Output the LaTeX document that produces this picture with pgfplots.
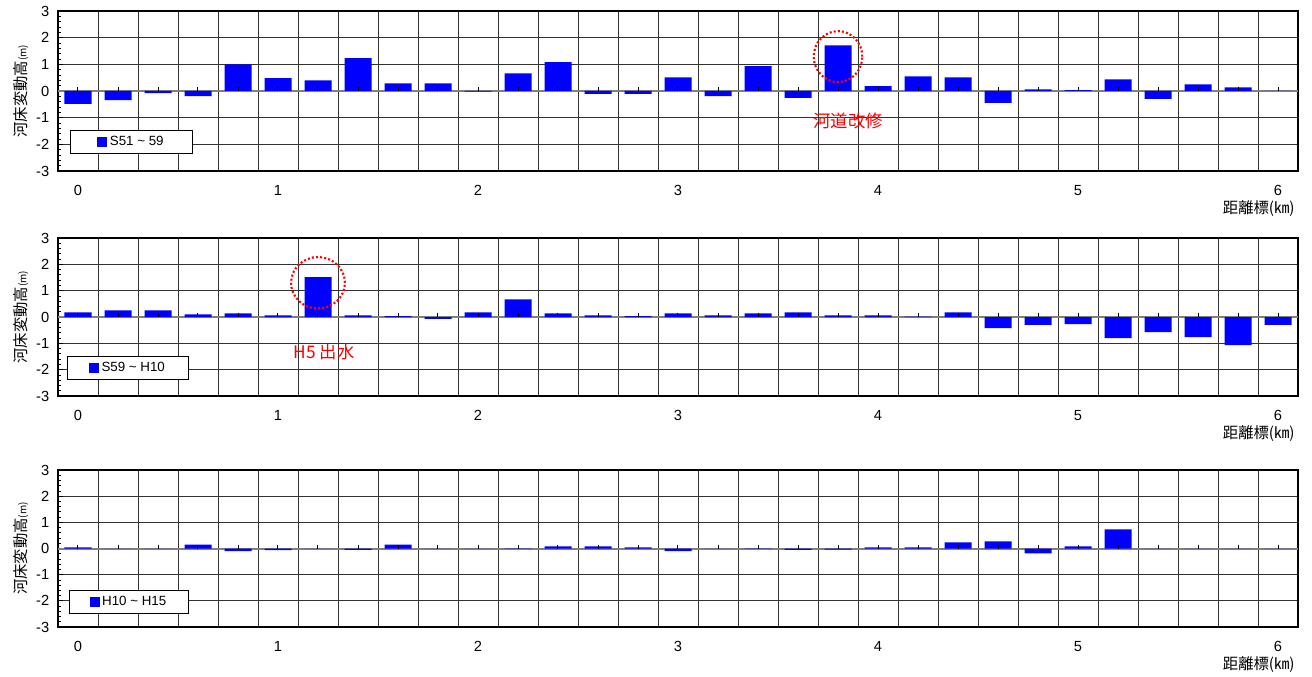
\documentclass[border=0pt]{standalone}
\usepackage{pgfplots}
\usepackage{pgfplotstable}
\pgfplotsset{compat=1.18}
\usepackage{fontspec}
\setmainfont{Liberation Sans}
\newfontfamily\cjk{Noto Sans CJK JP}
\definecolor{barblue}{RGB}{0,0,255}
\definecolor{annred}{RGB}{255,0,0}

\pgfplotstableread{
x y
0.0 -0.48
0.2 -0.34
0.4 -0.08
0.6 -0.19
0.8 1.00
1.0 0.48
1.2 0.40
1.4 1.23
1.6 0.29
1.8 0.29
2.0 -0.02
2.2 0.66
2.4 1.08
2.6 -0.11
2.8 -0.11
3.0 0.51
3.2 -0.19
3.4 0.93
3.6 -0.26
3.8 1.71
4.0 0.18
4.2 0.55
4.4 0.51
4.6 -0.45
4.8 0.06
5.0 0.03
5.2 0.44
5.4 -0.30
5.6 0.25
5.8 0.14
6.0 0.00
}\dataA

\pgfplotstableread{
x y
0.0 0.18
0.2 0.25
0.4 0.25
0.6 0.10
0.8 0.14
1.0 0.06
1.2 1.51
1.4 0.06
1.6 0.03
1.8 -0.07
2.0 0.18
2.2 0.67
2.4 0.14
2.6 0.06
2.8 0.03
3.0 0.14
3.2 0.06
3.4 0.14
3.6 0.18
3.8 0.06
4.0 0.06
4.2 0.01
4.4 0.18
4.6 -0.42
4.8 -0.30
5.0 -0.27
5.2 -0.80
5.4 -0.57
5.6 -0.76
5.8 -1.07
6.0 -0.30
}\dataB

\pgfplotstableread{
x y
0.0 0.04
0.2 0.00
0.4 0.00
0.6 0.15
0.8 -0.10
1.0 -0.06
1.2 0.00
1.4 -0.05
1.6 0.15
1.8 0.00
2.0 0.00
2.2 -0.01
2.4 0.08
2.6 0.08
2.8 0.04
3.0 -0.10
3.2 0.00
3.4 -0.01
3.6 -0.05
3.8 -0.04
4.0 0.04
4.2 0.04
4.4 0.23
4.6 0.27
4.8 -0.19
5.0 0.08
5.2 0.73
5.4 0.00
5.6 0.00
5.8 0.00
6.0 0.00
}\dataC

\pgfplotsset{
 panel/.style={
  scale only axis, width=930pt,
  xmin=-0.1, xmax=6.1, ymin=-3, ymax=3,
  xtick={0,...,6},
  minor xtick={0.1,0.3,...,5.9},
  xminorgrids=true, xmajorgrids=false,
  ytick={-3,...,3}, ymajorgrids=true,
  minor y tick num=4,
  ytick pos=left, xtick pos=bottom,
  tick align=inside,
  major tick length=4pt, minor tick length=2.5pt,
  xtick style={draw=none},
  ytick style={black, line width=0.6pt},
  minor grid style={black!80, line width=0.75pt},
  major grid style={black!80, line width=0.75pt},
  axis line style={black, line width=1.5pt},
  /pgf/number format/assume math mode=true,
  tick label style={font=\fontsize{11}{12}\selectfont},
  xticklabel style={yshift=-7pt},
  yticklabel style={xshift=-3pt},
  ylabel={{\cjk 河床変動高}{\fontsize{7.5}{8}\selectfont\cjk (m)}},
  ylabel style={font=\fontsize{11.5}{12}\selectfont, yshift=-1pt},
  xlabel={{\cjk 距離標(㎞)}},
  xlabel style={at={(rel axis cs:1,0)}, anchor=east, xshift=1pt, yshift=-28.5pt, font=\fontsize{11.5}{12}\selectfont},
  legend style={at={(0.0097,0.106)}, anchor=south west, draw=black, line width=0.75pt,
    fill=white, inner xsep=20pt, inner ysep=2.5pt, font=\fontsize{10}{11}\selectfont},
  legend cell align=left,
 },
 bars/.style={ybar, bar width=0.135, fill=barblue, draw=none,
   legend image code/.code={\fill[barblue] (0pt,-3.75pt) rectangle (7.5pt,3.75pt);}},
}

\newcommand{\zeroaxis}{%
  \draw[black!50, line width=1.5pt] (axis cs:-0.1,0) -- (axis cs:6.1,0);
}
\newcommand{\zeroticks}{%
  \pgfplotsinvokeforeach{0,0.2,...,6}{\draw[black, line width=0.75pt] (axis cs:##1,0) -- ++(0pt,3pt);}
}

\begin{document}
\begin{tikzpicture}
\useasboundingbox (0,0) rectangle (984pt,-507.75pt);

\begin{axis}[panel, height=120pt, at={(43.5pt,-128.25pt)}, anchor=south west]
\zeroaxis
\addplot[bars] table[x=x,y=y]{\dataA};
\addlegendentry{S51 \textasciitilde{} 59}
\zeroticks
\draw[annred, line width=1.6pt, dash pattern=on 1.5pt off 1.6pt] (axis cs:3.8,1.29) ellipse [x radius=18.2pt, y radius=19.1pt];
\node[text=annred, font=\fontsize{13}{15}\selectfont\cjk] at (axis cs:3.85,-1.12) {河道改修};
\end{axis}

\begin{axis}[panel, height=118.5pt, at={(43.5pt,-297pt)}, anchor=south west,
  legend style={at={(0.0073,0.10)}, inner xsep=16pt}]
\zeroaxis
\addplot[bars] table[x=x,y=y]{\dataB};
\addlegendentry{S59 \textasciitilde{} H10}
\zeroticks
\draw[annred, line width=1.6pt, dash pattern=on 1.5pt off 1.6pt] (axis cs:1.2,1.30) ellipse [x radius=20.2pt, y radius=19.3pt];
\node[text=annred, font=\fontsize{13}{15}\selectfont\cjk] at (axis cs:1.23,-1.34) {H5 出水};
\end{axis}

\begin{axis}[panel, height=117.75pt, at={(43.5pt,-470.25pt)}, anchor=south west,
  legend style={at={(0.0089,0.083)}, inner xsep=15pt}]
\zeroaxis
\addplot[bars] table[x=x,y=y]{\dataC};
\addlegendentry{H10 \textasciitilde{} H15}
\zeroticks
\end{axis}
\end{tikzpicture}
\end{document}
